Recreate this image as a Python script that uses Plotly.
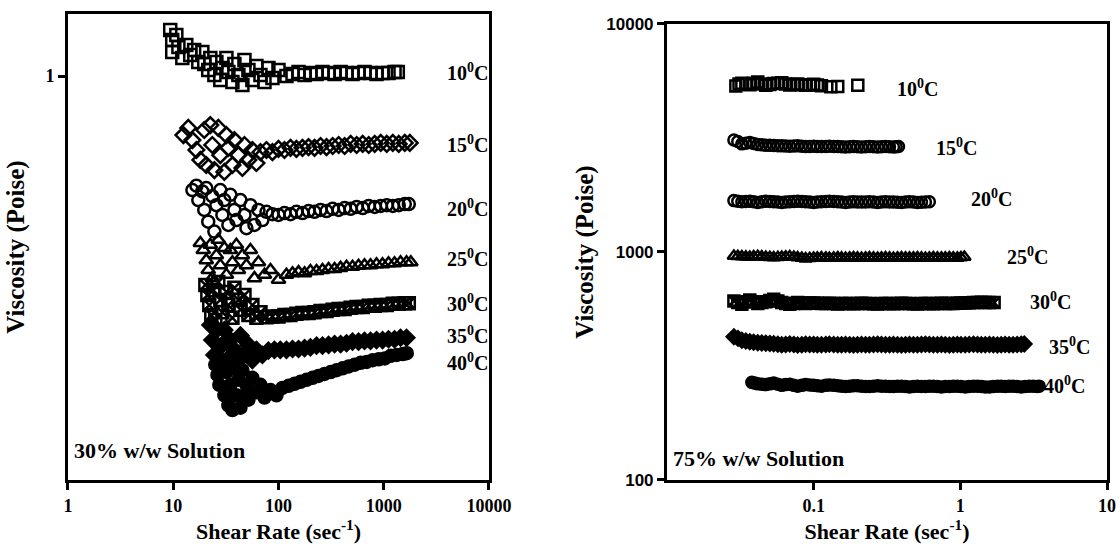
import plotly.graph_objects as go

# ---------------- 30% w/w solution: shear rate (1/s) vs viscosity (P) ----------------
l10_x = [9.36, 9.78, 10.7, 11.2, 9.78, 12.2, 13.3, 14.5, 15.8, 17.3, 18.9, 19.7, 21.5, 22.5,
         24.6, 25.7, 28.0, 29.3, 32.0, 33.4, 36.5, 38.1, 41.6, 45.4, 47.5, 51.8, 56.5, 61.7,
         67.4, 73.6, 80.2, 87.6, 100, 119, 136, 155, 177, 201, 230, 262, 299, 341, 389, 443,
         505, 576, 657, 749, 854, 974, 1110, 1266, 1360]
l10_y = [1.300, 1.228, 1.263, 1.180, 1.147, 1.108, 1.193, 1.127, 1.160, 1.083, 1.147, 1.071,
         1.035, 1.108, 1.006, 1.083, 0.977, 1.047, 1.108, 1.023, 0.966, 1.071, 1.006, 0.950,
         1.095, 1.035, 0.977, 1.059, 1.006, 0.966, 1.047, 0.989, 1.035, 1.000, 1.012, 1.023,
         1.006, 1.017, 1.012, 1.023, 1.017, 1.012, 1.023, 1.017, 1.012, 1.017, 1.023, 1.017,
         1.012, 1.017, 1.017, 1.023, 1.023]

l15_x = [12.5, 13.9, 15.2, 16.6, 18.1, 19.7, 20.6, 22.5, 23.5, 24.6, 26.8, 28.0, 30.6, 32.0,
         33.4, 36.5, 38.1, 41.6, 45.4, 47.5, 51.8, 56.5, 61.7, 67.4, 76.9, 87.6, 100, 114, 130,
         148, 169, 193, 220, 251, 286, 327, 373, 425, 485, 553, 631, 720, 821, 937, 1068, 1219,
         1389, 1585, 1769]
l15_y = [0.714, 0.744, 0.694, 0.656, 0.620, 0.735, 0.602, 0.756, 0.675, 0.585, 0.744, 0.637,
         0.579, 0.714, 0.664, 0.602, 0.694, 0.637, 0.592, 0.675, 0.620, 0.656, 0.609, 0.648,
         0.656, 0.648, 0.660, 0.656, 0.664, 0.660, 0.664, 0.667, 0.664, 0.671, 0.667, 0.671,
         0.675, 0.671, 0.679, 0.675, 0.679, 0.675, 0.679, 0.683, 0.679, 0.683, 0.679, 0.683,
         0.683]

l20_x = [15.2, 16.6, 17.3, 18.9, 19.7, 20.6, 21.5, 23.5, 24.6, 25.7, 28.0, 29.3, 30.6, 33.4,
         34.9, 38.1, 39.8, 43.5, 47.5, 49.6, 54.1, 59.1, 64.5, 70.3, 76.9, 87.6, 100, 114, 130,
         148, 169, 193, 220, 251, 286, 327, 373, 425, 485, 553, 631, 720, 821, 937, 1068, 1219,
         1389, 1585, 1730]
l20_y = [0.522, 0.535, 0.493, 0.518, 0.466, 0.528, 0.436, 0.504, 0.412, 0.479, 0.522, 0.453,
         0.493, 0.428, 0.508, 0.466, 0.440, 0.493, 0.453, 0.420, 0.479, 0.428, 0.466, 0.440,
         0.461, 0.455, 0.453, 0.458, 0.455, 0.461, 0.458, 0.463, 0.461, 0.466, 0.463, 0.469,
         0.466, 0.471, 0.469, 0.474, 0.471, 0.477, 0.474, 0.477, 0.479, 0.477, 0.479, 0.482,
         0.482]

l25_x = [18.1, 19.3, 20.6, 21.5, 22.5, 23.5, 25.7, 26.8, 28.0, 30.6, 32.0, 34.9, 36.5, 39.8,
         41.6, 45.4, 49.6, 54.1, 59.1, 64.5, 73.6, 83.9, 100, 119, 136, 155, 177, 201, 230, 262,
         299, 341, 389, 443, 505, 576, 657, 749, 854, 974, 1110, 1266, 1443, 1646, 1808]
l25_y = [0.386, 0.371, 0.350, 0.331, 0.382, 0.316, 0.360, 0.393, 0.340, 0.375, 0.322, 0.371,
         0.346, 0.382, 0.331, 0.360, 0.340, 0.371, 0.316, 0.346, 0.322, 0.331, 0.313, 0.322,
         0.325, 0.327, 0.325, 0.329, 0.329, 0.331, 0.333, 0.333, 0.335, 0.337, 0.337, 0.339,
         0.340, 0.340, 0.342, 0.342, 0.344, 0.344, 0.346, 0.346, 0.346]

l30_x = [20.2, 21.1, 22.0, 23.0, 24.0, 25.1, 26.8, 28.0, 29.3, 32.0, 33.4, 36.5, 38.1, 41.6,
         43.5, 47.5, 51.8, 56.5, 61.7, 67.4, 76.9, 87.6, 100, 114, 130, 148, 169, 193, 220, 251,
         286, 327, 373, 425, 485, 553, 631, 720, 821, 937, 1068, 1219, 1389, 1585, 1730]
l30_y = [0.304, 0.287, 0.271, 0.256, 0.295, 0.249, 0.309, 0.279, 0.260, 0.292, 0.271, 0.252,
         0.299, 0.279, 0.264, 0.287, 0.256, 0.271, 0.252, 0.260, 0.253, 0.254, 0.254, 0.256,
         0.256, 0.258, 0.259, 0.259, 0.260, 0.262, 0.262, 0.264, 0.265, 0.265, 0.267, 0.268,
         0.268, 0.270, 0.270, 0.271, 0.271, 0.273, 0.273, 0.274, 0.274]

l35_x = [22.5, 23.5, 24.6, 25.7, 26.8, 29.3, 30.6, 33.4, 34.9, 38.1, 39.8, 43.5, 47.5, 51.8,
         56.5, 61.7, 70.3, 80.2, 91.5, 104, 119, 136, 155, 177, 201, 230, 262, 299, 341, 389,
         443, 505, 576, 657, 749, 854, 974, 1110, 1266, 1443, 1646]
l35_y = [0.242, 0.222, 0.204, 0.235, 0.193, 0.216, 0.235, 0.200, 0.222, 0.210, 0.193, 0.228,
         0.204, 0.216, 0.198, 0.210, 0.204, 0.209, 0.210, 0.210, 0.210, 0.211, 0.211, 0.212,
         0.213, 0.215, 0.215, 0.216, 0.217, 0.217, 0.218, 0.220, 0.220, 0.221, 0.221, 0.222,
         0.222, 0.223, 0.223, 0.225, 0.225]

l40_x = [25.1, 26.3, 27.4, 29.3, 30.6, 32.0, 33.4, 34.9, 36.5, 38.1, 39.8, 41.6, 43.5, 45.4,
         47.5, 49.6, 51.8, 56.5, 61.7, 67.4, 73.6, 83.9, 95.7, 109, 125, 142, 162, 185, 211,
         240, 274, 313, 357, 407, 464, 530, 604, 689, 786, 896, 1022, 1166, 1330, 1517, 1656]
l40_y = [0.193, 0.182, 0.172, 0.198, 0.162, 0.185, 0.153, 0.172, 0.149, 0.189, 0.162, 0.177,
         0.151, 0.187, 0.162, 0.172, 0.158, 0.179, 0.165, 0.172, 0.160, 0.167, 0.162, 0.169,
         0.171, 0.173, 0.175, 0.177, 0.179, 0.181, 0.183, 0.185, 0.187, 0.189, 0.191, 0.193,
         0.195, 0.196, 0.198, 0.199, 0.200, 0.203, 0.204, 0.205, 0.206]

# ---------------- 75% w/w solution ----------------
r10_x = [0.0295, 0.0310, 0.0324, 0.0345, 0.0367, 0.0390, 0.0416, 0.0443, 0.0472, 0.0503,
         0.0534, 0.0570, 0.0606, 0.0645, 0.0687, 0.0733, 0.0778, 0.0830, 0.0882, 0.0940,
         0.100, 0.106, 0.113, 0.131, 0.146, 0.200]
r10_y = [5350, 5450, 5500, 5460, 5420, 5500, 5560, 5450, 5380, 5430, 5480, 5500, 5520, 5450,
         5400, 5430, 5460, 5420, 5380, 5410, 5440, 5400, 5360, 5300, 5320, 5380]

r15_x = [0.0286, 0.0304, 0.0324, 0.0345, 0.0367, 0.0390, 0.0416, 0.0443, 0.0472, 0.0503,
         0.0534, 0.0570, 0.0606, 0.0645, 0.0687, 0.0733, 0.0778, 0.0830, 0.0882, 0.0940,
         0.100, 0.106, 0.113, 0.121, 0.128, 0.137, 0.146, 0.155, 0.165, 0.176, 0.187, 0.199,
         0.212, 0.226, 0.240, 0.256, 0.273, 0.290, 0.309, 0.329, 0.350, 0.365, 0.379]
r15_y = [3100, 3050, 2980, 3000, 3020, 2990, 2960, 2950, 2940, 2935, 2930, 2925, 2920, 2915,
         2910, 2915, 2920, 2910, 2900, 2905, 2910, 2905, 2900, 2905, 2910, 2905, 2900, 2895,
         2890, 2895, 2900, 2895, 2890, 2895, 2900, 2895, 2890, 2895, 2900, 2895, 2890, 2895,
         2900]

r20_x = [0.0286, 0.0304, 0.0324, 0.0345, 0.0367, 0.0390, 0.0416, 0.0443, 0.0472, 0.0503,
         0.0534, 0.0570, 0.0606, 0.0645, 0.0687, 0.0733, 0.0778, 0.0830, 0.0882, 0.0940,
         0.100, 0.106, 0.113, 0.121, 0.128, 0.137, 0.146, 0.155, 0.165, 0.176, 0.187, 0.199,
         0.212, 0.226, 0.240, 0.256, 0.273, 0.290, 0.309, 0.329, 0.350, 0.373, 0.397, 0.423,
         0.450, 0.479, 0.510, 0.543, 0.578, 0.615]
r20_y = [1680, 1670, 1660, 1665, 1670, 1660, 1650, 1660, 1670, 1665, 1660, 1655, 1650, 1655,
         1660, 1665, 1670, 1665, 1660, 1655, 1650, 1655, 1660, 1665, 1670, 1665, 1660, 1655,
         1650, 1655, 1660, 1658, 1655, 1658, 1660, 1655, 1650, 1655, 1660, 1658, 1655, 1652,
         1650, 1655, 1660, 1655, 1650, 1652, 1655, 1660]

r25_x = [0.0286, 0.0304, 0.0324, 0.0345, 0.0367, 0.0390, 0.0416, 0.0443, 0.0472, 0.0503,
         0.0534, 0.0570, 0.0606, 0.0645, 0.0687, 0.0733, 0.0778, 0.0830, 0.0882, 0.0940,
         0.100, 0.106, 0.113, 0.121, 0.128, 0.137, 0.146, 0.155, 0.165, 0.176, 0.187, 0.199,
         0.212, 0.226, 0.240, 0.256, 0.273, 0.290, 0.309, 0.329, 0.350, 0.373, 0.397, 0.423,
         0.450, 0.479, 0.510, 0.543, 0.578, 0.615, 0.655, 0.698, 0.743, 0.790, 0.842, 0.896,
         0.954, 1.01, 1.065]
r25_y = [960, 958, 955, 952, 950, 954, 958, 954, 950, 948, 945, 948, 950, 952, 955, 950, 945,
         940, 935, 938, 940, 942, 945, 942, 940, 942, 945, 942, 940, 942, 945, 942, 940, 942,
         945, 942, 940, 942, 945, 942, 940, 942, 945, 943, 942, 943, 945, 942, 940, 942, 945,
         943, 942, 943, 945, 943, 942, 946, 950]

r30_x = [0.0286, 0.0304, 0.0324, 0.0345, 0.0367, 0.0390, 0.0416, 0.0443, 0.0472, 0.0503,
         0.0534, 0.0570, 0.0606, 0.0645, 0.0687, 0.0733, 0.0778, 0.0830, 0.0882, 0.0940,
         0.100, 0.106, 0.113, 0.121, 0.128, 0.137, 0.146, 0.155, 0.165, 0.176, 0.187, 0.199,
         0.212, 0.226, 0.240, 0.256, 0.273, 0.290, 0.309, 0.329, 0.350, 0.373, 0.397, 0.423,
         0.450, 0.479, 0.510, 0.543, 0.578, 0.615, 0.655, 0.698, 0.743, 0.790, 0.842, 0.896,
         0.954, 1.01, 1.08, 1.15, 1.23, 1.31, 1.39, 1.48, 1.58, 1.70]
r30_y = [610, 600, 590, 605, 615, 605, 595, 600, 605, 612, 620, 610, 600, 595, 590, 595, 600,
         598, 595, 597, 598, 596, 594, 595, 596, 594, 592, 594, 595, 594, 593, 595, 596, 595,
         594, 593, 592, 594, 595, 594, 593, 595, 596, 595, 594, 593, 592, 594, 595, 594, 593,
         595, 596, 595, 594, 595, 596, 597, 598, 599, 600, 601, 602, 601, 600, 600]

r35_x = [0.0286, 0.0305, 0.0324, 0.0345, 0.0367, 0.0390, 0.0416, 0.0443, 0.0472, 0.0503,
         0.0534, 0.0570, 0.0606, 0.0645, 0.0687, 0.0733, 0.0778, 0.0830, 0.0882, 0.0940,
         0.100, 0.106, 0.113, 0.121, 0.128, 0.137, 0.146, 0.155, 0.165, 0.176, 0.187, 0.199,
         0.212, 0.226, 0.240, 0.256, 0.273, 0.290, 0.309, 0.329, 0.350, 0.373, 0.397, 0.423,
         0.450, 0.479, 0.510, 0.543, 0.578, 0.615, 0.655, 0.698, 0.743, 0.790, 0.842, 0.896,
         0.954, 1.01, 1.08, 1.15, 1.23, 1.31, 1.39, 1.48, 1.58, 1.68, 1.79, 1.90, 2.02, 2.15,
         2.29, 2.44, 2.60, 2.73]
r35_y = [425, 418, 410, 407, 404, 402, 400, 399, 398, 397, 396, 394, 392, 393, 395, 393, 391,
         392, 394, 393, 393, 392, 392, 393, 394, 393, 392, 392, 393, 392, 391, 392, 393, 392,
         392, 393, 394, 393, 392, 392, 393, 392, 391, 392, 393, 392, 392, 393, 394, 393, 392,
         392, 393, 392, 391, 392, 393, 392, 392, 393, 394, 393, 392, 392, 393, 392, 391, 392,
         393, 392, 392, 393, 394, 395]

r40_x = [0.0379, 0.0397, 0.0416, 0.0443, 0.0472, 0.0503, 0.0534, 0.0570, 0.0606, 0.0645,
         0.0687, 0.0733, 0.0778, 0.0830, 0.0882, 0.0940, 0.100, 0.106, 0.113, 0.121, 0.128,
         0.137, 0.146, 0.155, 0.165, 0.176, 0.187, 0.199, 0.212, 0.226, 0.240, 0.256, 0.273,
         0.290, 0.309, 0.329, 0.350, 0.373, 0.397, 0.423, 0.450, 0.479, 0.510, 0.543, 0.578,
         0.615, 0.655, 0.698, 0.743, 0.790, 0.842, 0.896, 0.954, 1.01, 1.08, 1.15, 1.23, 1.31,
         1.39, 1.48, 1.58, 1.68, 1.79, 1.90, 2.02, 2.15, 2.29, 2.44, 2.60, 2.77, 2.95, 3.14,
         3.34, 3.45]
r40_y = [268, 266, 264, 263, 262, 264, 266, 263, 260, 262, 263, 260, 258, 260, 262, 261, 260,
         259, 258, 260, 261, 260, 259, 258, 257, 258, 259, 259, 258, 257, 257, 258, 259, 258,
         258, 257, 257, 258, 258, 257, 256, 257, 258, 257, 257, 258, 258, 257, 256, 257, 257,
         258, 258, 257, 256, 257, 258, 258, 257, 256, 256, 257, 258, 258, 257, 258, 258, 257,
         256, 257, 258, 258, 257, 258]

temps = ["10", "15", "20", "25", "30", "35", "40"]
left_series = [(l10_x, l10_y), (l15_x, l15_y), (l20_x, l20_y), (l25_x, l25_y),
               (l30_x, l30_y), (l35_x, l35_y), (l40_x, l40_y)]
right_series = [(r10_x, r10_y), (r15_x, r15_y), (r20_x, r20_y), (r25_x, r25_y),
                (r30_x, r30_y), (r35_x, r35_y), (r40_x, r40_y)]

left_symbols = ["square-open", "diamond-open", "circle-open", "triangle-up-open",
                "square-x-open", "diamond", "circle"]
right_symbols = ["square-open", "circle-open", "circle-open", "triangle-up-open",
                 "square-x-open", "diamond", "circle"]

SERIF = "Liberation Serif, Times New Roman, serif"
SANS = "Liberation Sans Narrow, Liberation Sans, Arial, sans-serif"
INK = "black"

fig = go.Figure()

for (xs, ys), sym in zip(left_series, left_symbols):
    fig.add_trace(go.Scatter(
        x=xs, y=ys, mode="markers", xaxis="x", yaxis="y", showlegend=False,
        marker=dict(symbol=sym, size=12, color=INK, line=dict(color=INK, width=2.5)),
    ))

for (xs, ys), sym in zip(right_series, right_symbols):
    fig.add_trace(go.Scatter(
        x=xs, y=ys, mode="markers", xaxis="x2", yaxis="y2", showlegend=False,
        marker=dict(symbol=sym, size=11, color=INK, line=dict(color=INK, width=2.5)),
    ))

axis_common = dict(
    type="log", showline=True, mirror=True, linewidth=3, linecolor=INK,
    showgrid=False, zeroline=False, ticks="outside", ticklen=7, tickwidth=2.5,
    tickcolor=INK, automargin=False,
)
title_font = dict(family=SERIF, size=22, color=INK, weight="bold")
ytitle_font = dict(family=SERIF, size=25, color=INK, weight="bold")
tick_serif = dict(family=SERIF, size=18, color=INK, weight="bold")
tick_sans = dict(family=SANS, size=17, color=INK, weight="bold")

fig.update_layout(
    template="none",
    width=1120, height=545,
    margin=dict(l=0, r=0, t=0, b=0, pad=0),
    paper_bgcolor="white", plot_bgcolor="white",
    xaxis=dict(
        axis_common, domain=[0.0607, 0.4366], anchor="y", range=[0, 4],
        tickvals=[1, 10, 100, 1000, 10000], ticktext=["1", "10", "100", "1000", "10000"],
        tickfont=tick_serif,
        title=dict(text="Shear Rate (sec<sup>-1</sup>)", font=title_font, standoff=6),
    ),
    yaxis=dict(
        axis_common, domain=[0.1193, 0.9743], anchor="x", range=[-1, 0.1535],
        tickvals=[1], ticktext=["1"], tickfont=tick_serif,
        title=dict(text="Viscosity (Poise)", font=ytitle_font, standoff=14),
    ),
    xaxis2=dict(
        axis_common, domain=[0.5955, 0.9884], anchor="y2", range=[-2, 1],
        tickvals=[0.1, 1, 10], ticktext=["0.1", "1", "10"], tickfont=tick_serif,
        title=dict(text="Shear Rate (sec<sup>-1</sup>)", font=title_font, standoff=6),
    ),
    yaxis2=dict(
        axis_common, domain=[0.1193, 0.9560], anchor="x2", range=[2, 4],
        tickvals=[100, 1000, 10000], ticktext=["100", "1000", "10000"], tickfont=tick_sans,
        title=dict(text="Viscosity (Poise)", font=ytitle_font, standoff=6),
    ),
)

label_font = dict(family=SERIF, size=20, color=INK, weight="bold")

# temperature labels beside each curve (positions in axis-domain fractions)
left_label_pos = [(0.895, 0.8755), (0.895, 0.721), (0.895, 0.5837), (0.895, 0.4764),
                  (0.895, 0.3798), (0.895, 0.3112), (0.895, 0.2532)]
right_label_pos = [(0.518, 0.8596), (0.607, 0.7303), (0.686, 0.6184), (0.768, 0.4912),
                   (0.820, 0.3925), (0.864, 0.2939), (0.852, 0.2083)]

annotations = []
for t, (px, py) in zip(temps, left_label_pos):
    annotations.append(dict(
        text=f"{t}<sup>0</sup>C", xref="x domain", yref="y domain", x=px, y=py,
        xanchor="left", yanchor="middle", showarrow=False, font=label_font,
    ))
for t, (px, py) in zip(temps, right_label_pos):
    annotations.append(dict(
        text=f"{t}<sup>0</sup>C", xref="x2 domain", yref="y2 domain", x=px, y=py,
        xanchor="left", yanchor="middle", showarrow=False, font=label_font,
    ))

annotations.append(dict(
    text="30% w/w Solution", xref="x domain", yref="y domain", x=0.010, y=0.064,
    xanchor="left", yanchor="middle", showarrow=False, font=dict(label_font, size=22),
))
annotations.append(dict(
    text="75% w/w Solution", xref="x2 domain", yref="y2 domain", x=0.010, y=0.048,
    xanchor="left", yanchor="middle", showarrow=False, font=dict(label_font, size=22),
))

fig.update_layout(annotations=annotations)

fig.write_html("out.html")
